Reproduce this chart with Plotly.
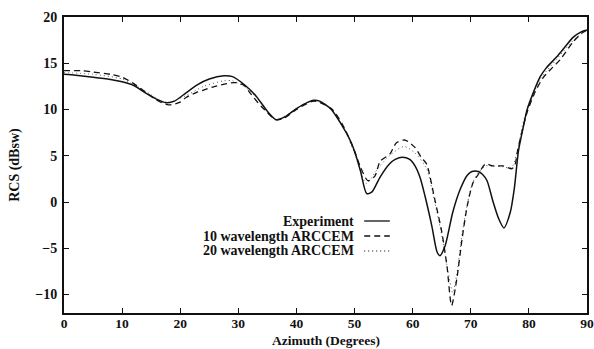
import plotly.graph_objects as go

# ---------------- data ----------------
exp_x = [0, 2, 5, 8, 10, 12, 14, 16, 17.5, 19, 21, 23, 25, 27.5, 29, 31, 33, 35, 36.5, 38, 40, 42, 43, 44, 46,
         48, 49, 50, 51, 52.1, 53, 54.4, 56, 57, 58.2, 59.5, 60.4, 61.3, 62.1, 63.3, 64.2, 64.7, 65.6, 66.9,
         68.2, 69.4, 70.2, 71.3, 72, 72.8, 73.8, 74.8, 75.7, 76.8, 77.5, 78.2, 79, 79.7, 81, 81.9, 83, 84.8,
         86, 87.6, 89, 90]
exp_y = [13.8, 13.7, 13.5, 13.25, 13.0, 12.6, 11.8, 11.1, 10.75, 10.9, 11.8, 12.7, 13.3, 13.65, 13.55, 12.7,
         11.5, 9.8, 8.9, 9.2, 10.1, 10.8, 11.0, 10.9, 10.0, 8.1, 7.0, 5.5, 3.4, 0.9, 1.1, 2.7, 4.1, 4.6, 4.85,
         4.6, 3.9, 2.6, 0.7, -2.6, -5.4, -5.8, -4.7, -1.1, 1.4, 2.9, 3.3, 3.3, 3.0, 2.3, 0.1, -1.8, -2.8, -1.1,
         1.5, 5.5, 8.0, 10.0, 12.2, 13.5, 14.5, 15.7, 16.6, 17.8, 18.4, 18.6]

w10_x = [0, 3, 5, 8, 10, 12, 14, 16, 18, 20, 21, 23, 24, 26, 28, 29.5, 31, 32, 34, 36.5, 38, 40, 43, 46, 48,
         50, 51, 52.3, 53.5, 54.4, 56.1, 57.2, 58.7, 60.4, 61.5, 62.4, 63.8, 65, 65.9, 66.7, 67.6, 68.5, 69.4,
         70.4, 71.3, 72.5, 73.8, 75.5, 77.1, 77.6, 78.1, 79.7, 81, 82.4, 84, 85.4, 87.6, 89, 90]
w10_y = [14.2, 14.2, 14.05, 13.8, 13.5, 12.8, 11.9, 11.0, 10.5, 10.8, 11.3, 11.9, 12.1, 12.5, 12.8, 12.9, 12.6,
         11.8, 10.3, 8.9, 9.1, 10.0, 10.9, 10.1, 8.3, 5.5, 3.8, 2.3, 2.8, 4.4, 5.2, 6.4, 6.7, 5.9, 4.8, 4.1, 0.3,
         -3.2, -6.9, -11.2, -8.3, -4.0, -0.4, 2.1, 3.0, 4.1, 3.9, 3.9, 3.6, 4.0, 5.7, 9.7, 11.8, 13.4, 14.5,
         15.4, 17.3, 18.2, 18.6]

w20_x = [0, 5, 10, 14, 17.5, 21, 24, 27.5, 29, 31, 33, 36.5, 40, 43, 46, 48, 50, 52, 54, 56, 58.5, 60.4, 62.4,
         63.8, 65, 66, 66.9, 67.6, 68.5, 69.4, 70.4, 71.5, 72.5, 74, 75.5, 77, 78, 79, 80, 82, 85, 88, 90]
w20_y = [14.0, 13.8, 13.3, 12.0, 10.7, 11.5, 12.5, 13.1, 13.1, 12.5, 11.4, 8.9, 10.1, 11.0, 10.0, 8.2, 5.3, 2.0,
         3.6, 5.0, 6.0, 5.3, 3.6, 0.0, -3.6, -7.2, -9.8, -7.8, -3.5, -0.2, 2.2, 3.3, 3.9, 3.9, 3.8, 3.7, 5.5,
         8.6, 10.5, 13.3, 15.6, 17.7, 18.6]

series_names = ["Experiment", "10 wavelength ARCCEM", "20 wavelength ARCCEM"]
x_ticks = [0, 10, 20, 30, 40, 50, 60, 70, 80, 90]
y_ticks = [-10, -5, 0, 5, 10, 15, 20]
x_title = "Azimuth (Degrees)"
y_title = "RCS (dBsw)"

# ---------------- figure ----------------
FONT = "Liberation Serif"
INK = "#111111"
DASH = "6px,4px"
DOT = "1px,3px"

fig = go.Figure()
fig.add_trace(go.Scatter(x=w20_x, y=w20_y, mode="lines", name=series_names[2],
                         line=dict(color="#555555", width=1.0, dash=DOT, shape="spline", smoothing=0.7)))
fig.add_trace(go.Scatter(x=w10_x, y=w10_y, mode="lines", name=series_names[1],
                         line=dict(color=INK, width=1.3, dash=DASH, shape="spline", smoothing=0.7)))
fig.add_trace(go.Scatter(x=exp_x, y=exp_y, mode="lines", name=series_names[0],
                         line=dict(color=INK, width=1.5, shape="spline", smoothing=0.7)))

axis_common = dict(showline=True, linecolor=INK, linewidth=1.8, mirror="ticks", ticks="inside",
                   ticklen=5, tickcolor=INK, tickwidth=1.2, showgrid=False, zeroline=False,
                   automargin=False)

fig.update_xaxes(range=[0, 90], tickvals=x_ticks, ticklabelstandoff=-3,
                 tickfont=dict(family=FONT, size=13.5, color=INK, weight="bold"), **axis_common)
fig.update_yaxes(range=[-12, 20], tickvals=y_ticks, ticklabelstandoff=2,
                 tickfont=dict(family=FONT, size=14, color=INK, weight="bold"), **axis_common)

# axis titles
fig.add_annotation(xref="paper", yref="paper", x=0.5, y=-0.1216, text=x_title, showarrow=False,
                   xanchor="center", yanchor="bottom", borderpad=0,
                   font=dict(family=FONT, size=13.5, color=INK, weight="bold"))
fig.add_annotation(xref="paper", yref="paper", x=-0.094, y=0.5, text=y_title, showarrow=False,
                   textangle=-90, xanchor="center", yanchor="middle",
                   font=dict(family=FONT, size=14, color=INK, weight="bold"))

# legend (text right-aligned, sample to the right)
leg_y = [0.3108, 0.2601, 0.2095]
leg_dash = ["solid", DASH, DOT]
for name, yy, dsh in zip(series_names, leg_y, leg_dash):
    fig.add_annotation(xref="paper", yref="paper", x=0.557, y=yy, text=name, showarrow=False,
                       xanchor="right", yanchor="middle", borderpad=0,
                       font=dict(family=FONT, size=14, color=INK, weight="bold"))
    fig.add_shape(type="line", xref="paper", yref="paper", x0=0.574, x1=0.623, y0=yy, y1=yy,
                  line=dict(color=INK if dsh != DOT else "#555555", width=1.3, dash=dsh))

fig.update_layout(width=594, height=349, showlegend=False,
                  margin=dict(l=64, r=7, t=17, b=36),
                  plot_bgcolor="white", paper_bgcolor="white")

fig.write_html("out.html", config={"displayModeBar": False},
               post_script="document.body.style.margin='0';document.body.style.overflow='hidden';")
